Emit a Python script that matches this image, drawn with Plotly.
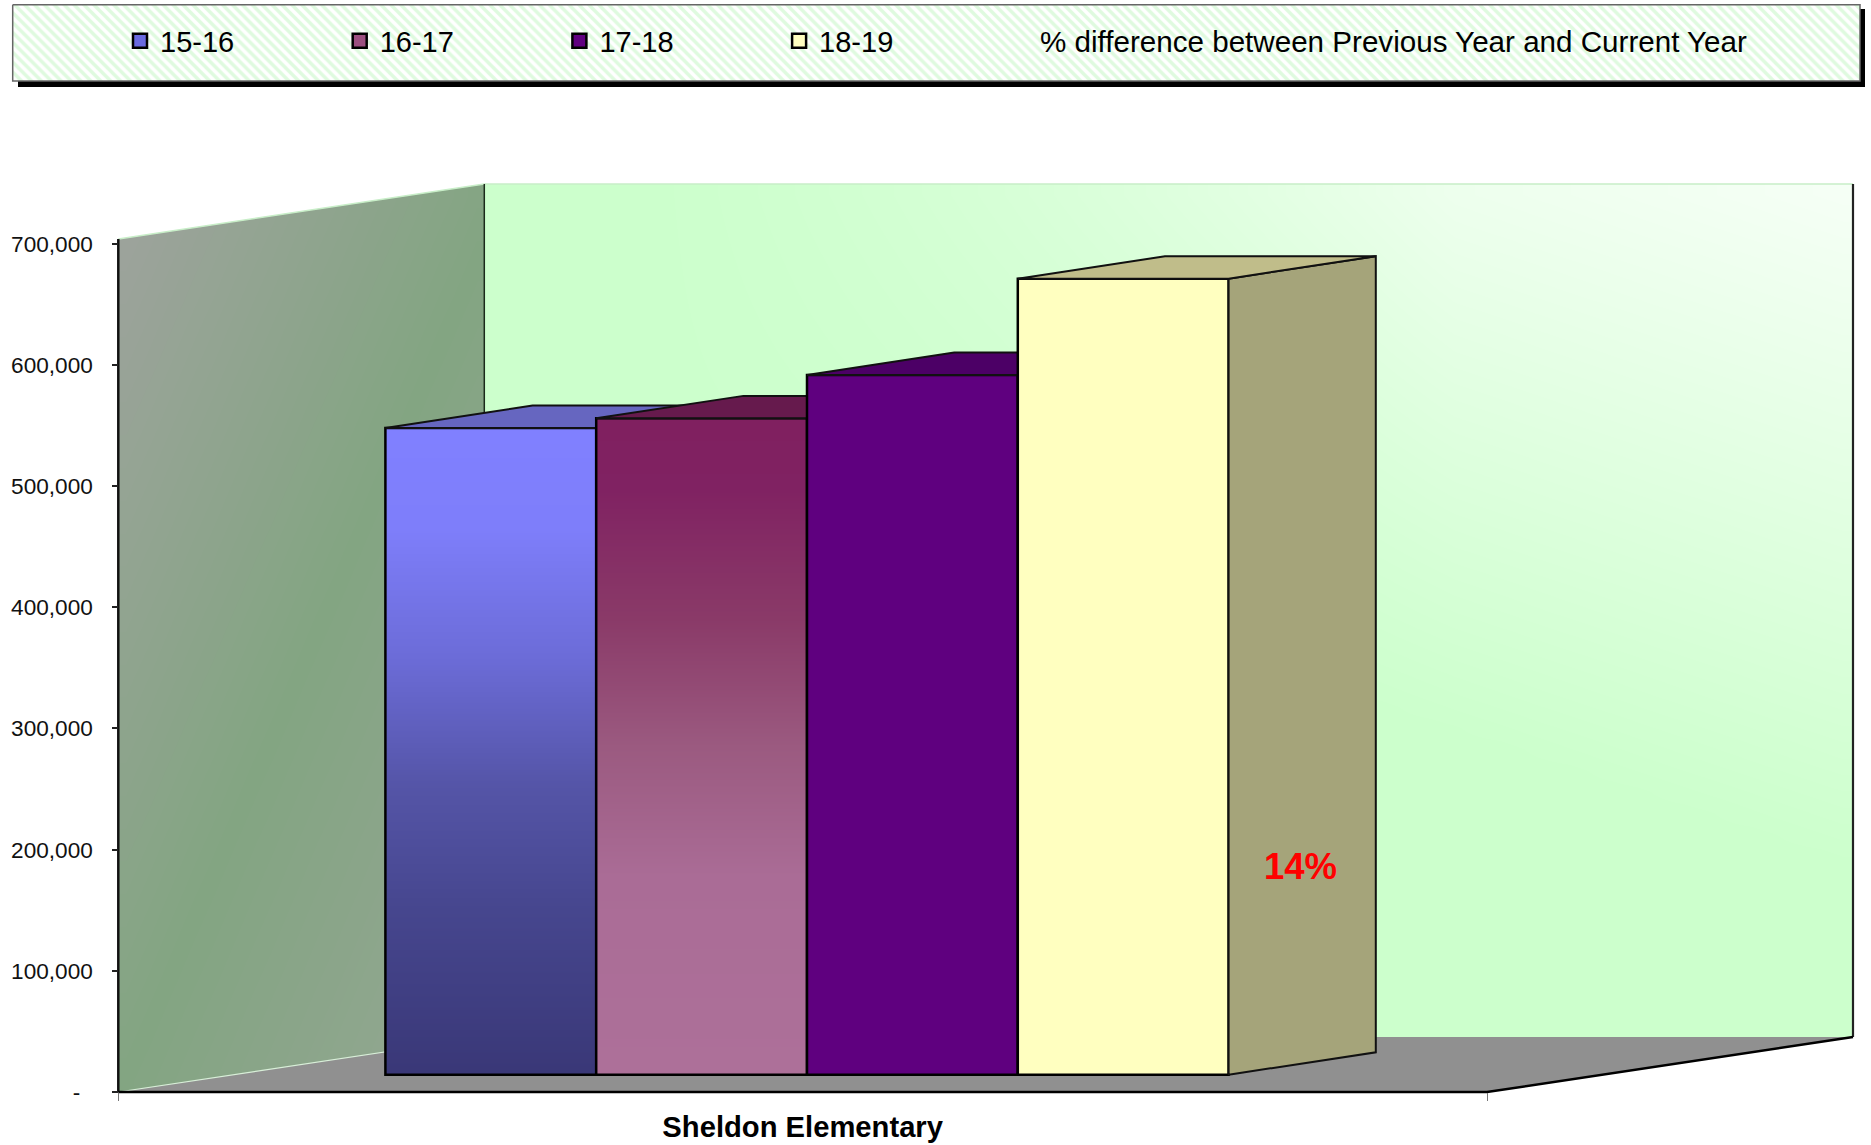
import numpy as np
import plotly.graph_objects as go

# ---- data ----
school = "Sheldon Elementary"
years = ["15-16", "16-17", "17-18", "18-19"]
values = [533600, 541600, 577300, 656800]
pct_label = "14%"
pct_series_name = "% difference between Previous Year and Current Year"
y_ticks = [0, 100000, 200000, 300000, 400000, 500000, 600000, 700000]
y_tick_text = ["-\u00a0\u00a0", "100,000", "200,000", "300,000", "400,000", "500,000", "600,000", "700,000"]

# ---- styles ----
W, H = 1871, 1145
front_solid = [None, None, "#5f007f", "#ffffc0"]
front_stops = [
    [(0.0, "#3a3878"), (0.25, "#46468e"), (0.45, "#5555a8"), (0.65, "#6c6cd8"), (0.85, "#7e7efa"), (1.0, "#8080ff")],
    [(0.0, "#ad7099"), (0.3, "#aa6c96"), (0.5, "#9b5a80"), (0.7, "#8a3a68"), (0.9, "#802262"), (1.0, "#802060")],
    None, None,
]
top_color = ["#6666c0", "#661a4d", "#4c0066", "#c0bd8a"]
side_color = ["#5c5cac", "#5c1845", "#44005c", "#a5a47a"]
legend_color = ["#6a6ae0", "#9c4f80", "#600080", "#ffffc0"]

# pixel frame of the pseudo-3D box
UNIT_PX = 210.8
BAR0_PX = 490.8
Y0_PX = 1092.0
PX_PER_100K = 121.2
WALL_L, WALL_B, WALL_R = 118.3, 484.3, 1853.0
FLOOR_R = 1487.0
TOP_F, TOP_B, FLOOR_B = 239.0, 184.0, 1037.0


def X(px):
    return (px - BAR0_PX) / UNIT_PX


def Y(py):
    return (Y0_PX - py) / PX_PER_100K * 100000


DX = 147.2 / UNIT_PX
DY = Y(Y0_PX - 22.4)
BAR_BASE = Y(1074.7)
x_range = [X(0), X(W)]
y_range = [Y(H), Y(0)]

fig = go.Figure()


def poly(px_pts, fill=None, line=None, lw=0, xa="x", ya="y", closed=True, **kw):
    xs = [X(p[0]) for p in px_pts]
    ys = [Y(p[1]) for p in px_pts]
    if closed:
        xs.append(xs[0])
        ys.append(ys[0])
    d = dict(x=xs, y=ys, mode="lines" if lw else "none", showlegend=False, hoverinfo="skip", xaxis=xa, yaxis=ya)
    if fill:
        d.update(fill="toself", fillcolor=fill)
    if lw:
        d["line"] = dict(color=line, width=lw)
    d.update(kw)
    fig.add_trace(go.Scatter(**d))


def centers(edges):
    return (edges[:-1] + edges[1:]) / 2


# ---- back wall ----
bw_x = np.linspace(WALL_B, WALL_R, 61)
bw_y = np.linspace(TOP_B, FLOOR_B, 41)
bw_z = []
for py in centers(bw_y):
    row = []
    for px in centers(bw_x):
        d = (WALL_R - px) * 0.32 + (py - TOP_B) * 0.95
        row.append(max(0.0, 1 - d / 650) * min(1.0, max(0.0, (px - 650) / 800)))
    bw_z.append(row)
fig.add_trace(go.Heatmap(x=[X(v) for v in bw_x], y=[Y(v) for v in bw_y], z=bw_z, zmin=0, zmax=1, zsmooth="best",
                         colorscale=[[0, "#ccffcc"], [1, "#f6fff6"]], showscale=False, hoverinfo="skip"))

# ---- left wall ----
lw_x = np.linspace(WALL_L, WALL_B, 25)
lw_y = np.linspace(TOP_B, Y0_PX, 41)
lw_z = []
for py in centers(lw_y):
    lw_z.append([(px - WALL_L) / 366 + (py - TOP_F) / 853 for px in centers(lw_x)])
fig.add_trace(go.Heatmap(x=[X(v) for v in lw_x], y=[Y(v) for v in lw_y], z=lw_z, zmin=0, zmax=2, zsmooth="best",
                         colorscale=[[0, "#9da39c"], [0.5, "#83a582"], [1, "#95a694"]], showscale=False, hoverinfo="skip"))
poly([(WALL_L - 4, TOP_B - 3), (WALL_B, TOP_B - 3), (WALL_B, TOP_B), (WALL_L, TOP_F), (WALL_L - 4, TOP_F)], fill="#ffffff")

# ---- floor and box edges ----
poly([(WALL_L, Y0_PX), (WALL_B, FLOOR_B), (WALL_R, FLOOR_B), (FLOOR_R, Y0_PX)], fill="#909090")
poly([(WALL_L, Y0_PX), (WALL_B, FLOOR_B)], line="#d8efd8", lw=1.2, closed=False)
poly([(WALL_L, TOP_F), (WALL_B, TOP_B), (WALL_R, TOP_B)], line="#c8eec8", lw=1.5, closed=False)
poly([(WALL_B, TOP_B), (WALL_B, FLOOR_B)], line="#1a2a1a", lw=1.5, closed=False)
poly([(WALL_R, TOP_B), (WALL_R, FLOOR_B)], line="#222222", lw=2.2, closed=False)
poly([(WALL_L, TOP_F), (WALL_L, Y0_PX)], line="#111111", lw=2.5, closed=False)
poly([(WALL_L, Y0_PX), (FLOOR_R, Y0_PX), (WALL_R, FLOOR_B)], line="#000000", lw=2.5, closed=False)

# ---- legend frame ----
poly([(18, 9), (1865, 9), (1865, 87), (18, 87)], fill="#000000")
poly([(12.7, 4.7), (1860, 4.7), (1860, 81), (12.7, 81)], fill="#ffffff", line="#666666", lw=1.5,
     fillpattern=dict(shape="\\", fgcolor="#bff5bf", bgcolor="#ffffff", size=7, solidity=0.5))

# ---- legend entries ----
for name, c in zip(years, legend_color):
    fig.add_trace(go.Scatter(x=[None], y=[None], mode="markers", name=name, legend="legend",
                             marker=dict(symbol="square", size=14, color=c, line=dict(color="#000000", width=2.5))))
fig.add_trace(go.Scatter(x=[None], y=[None], mode="markers", name=pct_series_name, legend="legend2",
                         marker=dict(symbol="square", size=1, color="rgba(0,0,0,0)")))

# ---- bars, each on its own overlay so that later bars paint over earlier ones ----
for i, (name, v) in enumerate(zip(years, values)):
    k = i + 2
    xa, ya = f"x{k}", f"y{k}"
    top = BAR_BASE + v
    stops = front_stops[i]
    if stops:
        fy = np.linspace(BAR_BASE, top, 61)
        fz = [[t, t] for t in np.linspace(0, 1, 60)]
        fig.add_trace(go.Heatmap(x=[i - 0.5, i, i + 0.5], y=fy, z=fz, zmin=0, zmax=1, zsmooth="best",
                                 colorscale=[[a, b] for a, b in stops], showscale=False,
                                 hoverinfo="skip", xaxis=xa, yaxis=ya))
    fig.add_trace(go.Bar(x=[i], y=[v], base=BAR_BASE, width=1.0, name=name, showlegend=False, xaxis=xa, yaxis=ya,
                         marker=dict(color=front_solid[i] or "rgba(0,0,0,0)", line=dict(color="#000000", width=2.5)),
                         hovertemplate=f"{name}: %{{y:,}}<extra></extra>"))
    line = dict(color="#111111", width=2)
    fig.add_trace(go.Scatter(x=[i + 0.5, i + 0.5 + DX, i + 0.5 + DX, i + 0.5, i + 0.5],
                             y=[BAR_BASE, BAR_BASE + DY, top + DY, top, BAR_BASE],
                             mode="lines", fill="toself", fillcolor=side_color[i], line=line,
                             showlegend=False, hoverinfo="skip", xaxis=xa, yaxis=ya))
    fig.add_trace(go.Scatter(x=[i - 0.5, i - 0.5 + DX, i + 0.5 + DX, i + 0.5, i - 0.5],
                             y=[top, top + DY, top + DY, top, top],
                             mode="lines", fill="toself", fillcolor=top_color[i], line=line,
                             showlegend=False, hoverinfo="skip", xaxis=xa, yaxis=ya))

layout_axes = {}
for k in range(2, 6):
    layout_axes[f"xaxis{k}"] = dict(overlaying="x", range=x_range, visible=False, anchor=f"y{k}")
    layout_axes[f"yaxis{k}"] = dict(overlaying="y", range=y_range, visible=False, anchor=f"x{k}")

fig.update_layout(
    width=W, height=H, margin=dict(l=0, r=0, t=0, b=0), autosize=False,
    paper_bgcolor="#ffffff", plot_bgcolor="#ffffff", barmode="overlay",
    font=dict(family="Liberation Sans", color="#000000"),
    xaxis=dict(range=x_range, domain=[0, 1], anchor="free", position=(H - Y0_PX) / H, showgrid=False, zeroline=False,
               showline=False, tickmode="array", tickvals=[(X(WALL_L) + X(FLOOR_R)) / 2], ticktext=[f"<b>{school}</b>"],
               ticks="", tickfont=dict(size=29.2, color="#000000"), ticklabelstandoff=15,
               minor=dict(tickmode="array", tickvals=[X(WALL_L), X(FLOOR_R)], ticks="outside", ticklen=8, tickwidth=1, tickcolor="#777777")),
    yaxis=dict(range=y_range, domain=[0, 1], anchor="free", position=WALL_L / W, showgrid=False, zeroline=False,
               showline=False, tickmode="array", tickvals=y_ticks, ticktext=y_tick_text, ticks="outside", ticklen=6,
               tickwidth=1.5, tickcolor="#222222", tickfont=dict(size=22.6, color="#111111"), ticklabelstandoff=15),
    legend=dict(orientation="h", x=120 / W, y=1 - 41 / H, xanchor="left", yanchor="middle", bgcolor="rgba(0,0,0,0)",
                entrywidth=179.5 - 4.8, entrywidthmode="pixels", font=dict(size=29, color="#000000"), itemsizing="trace",
                traceorder="normal"),
    legend2=dict(orientation="h", x=1000 / W, y=1 - 41 / H, xanchor="left", yanchor="middle", bgcolor="rgba(0,0,0,0)",
                 font=dict(size=29.6, color="#000000"), itemsizing="trace"),
    annotations=[dict(text=f"<b>{pct_label}</b>", x=3.5 + DX / 2, y=Y(866.5), xref="x5", yref="y5", xshift=-2,
                      showarrow=False, font=dict(size=36.5, color="#ff0000", family="Liberation Sans"))],
    **layout_axes,
)

fig.write_html("out.html", config=dict(displayModeBar=False),
               post_script="document.body.style.margin='0';document.body.style.overflow='hidden';")
